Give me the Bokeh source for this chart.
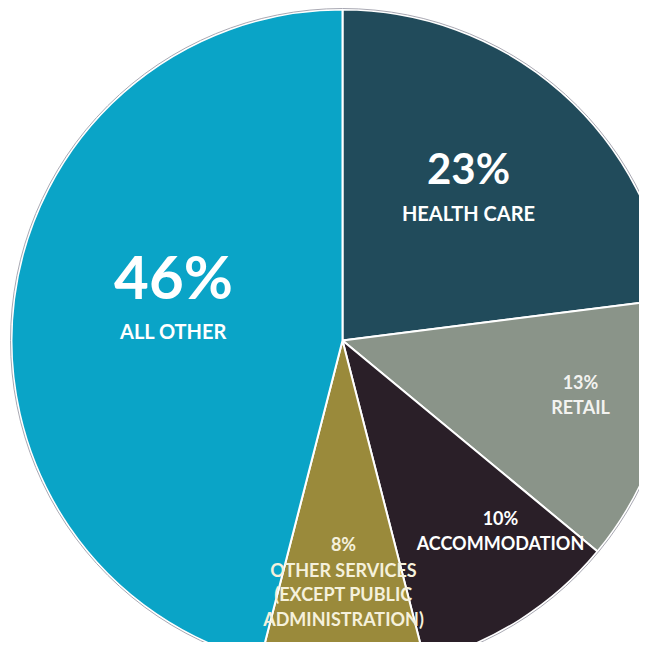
from math import pi
from bokeh.plotting import figure
from bokeh.models import Range1d, ColumnDataSource
from bokeh.core.properties import value
from bokeh.embed import file_html
from bokeh.resources import INLINE

# ---- data ----
categories = ["HEALTH CARE", "RETAIL", "ACCOMMODATION",
              "OTHER SERVICES\n(EXCEPT PUBLIC\nADMINISTRATION)", "ALL OTHER"]
shares = [23, 13, 10, 8, 46]
colors = ["#214b5b", "#8a9489", "#2a1f28", "#9a8a3b", "#0aa4c7"]

# ---- layout / style (not data) ----
W, H = 639, 642
CX, CY = 342, 340          # centre of pie in figure pixels from top-left
R = 331
# label anchor (centre of first line) relative to pie centre, y up
label_pos = [(126, 173), (238, -41), (158, -177), (1, -203), (-169, 65)]
pct_size = ["42px", "18px", "18px", "18px", "60px"]
name_size = ["20px", "18px", "18px", "18px", "20px"]
gap_first = [45, 25, 25, 26, 55]
line_step = [0, 0, 0, 24.5, 0]
text_colors = ["white", "#f3f3f0", "white", "#f5f1dc", "white"]

p = figure(width=W, height=H, output_backend="svg", toolbar_location=None,
           x_range=Range1d(-CX, W - CX), y_range=Range1d(-(H - CY), CY),
           min_border=0)
p.axis.visible = False
p.grid.visible = False
p.outline_line_color = None
p.background_fill_color = "white"

total = float(sum(shares))
starts, ends = [], []
cum = 0.0
for s in shares:
    a0 = pi / 2 - 2 * pi * cum / total
    cum += s
    a1 = pi / 2 - 2 * pi * cum / total
    starts.append(a1)
    ends.append(a0)

src = ColumnDataSource(dict(start=starts, end=ends, color=colors))
p.wedge(x=0, y=0, radius=R, start_angle="start", end_angle="end",
        fill_color="color", line_color="white", line_width=2, source=src)
p.circle(x=0, y=0, radius=R + 1, fill_color=None, line_color="#a9a9b3",
         line_width=1)

font = value("Lato")
for i, (cat, s) in enumerate(zip(categories, shares)):
    x0, y0 = label_pos[i]
    p.text(x=[x0], y=[y0], text=[f"{s}%"], text_font=font,
           text_font_style="bold", text_font_size=pct_size[i],
           text_color=text_colors[i], text_align="center", text_baseline="middle")
    lines = cat.split("\n")
    for j, ln in enumerate(lines):
        y = y0 - gap_first[i] - j * line_step[i]
        p.text(x=[x0], y=[y], text=[ln], text_font=font,
               text_font_style="bold", text_font_size=name_size[i],
               text_color=text_colors[i], text_align="center", text_baseline="middle")

open("out.html", "w").write(file_html(p, INLINE))
